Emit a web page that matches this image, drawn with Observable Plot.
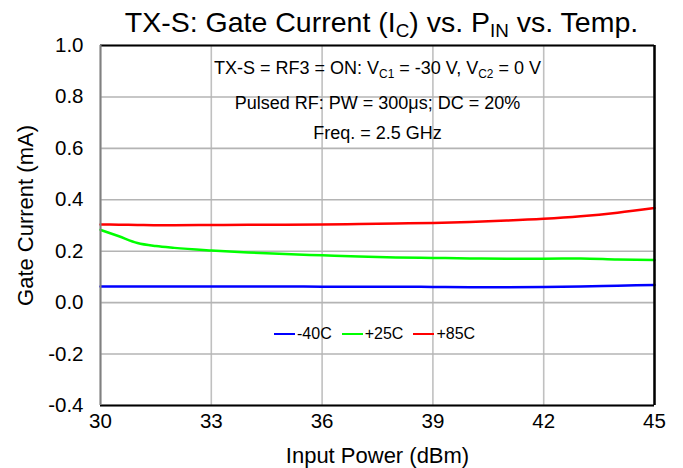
<!DOCTYPE html>
<html><head><meta charset="utf-8">
<script src="https://cdn.jsdelivr.net/npm/d3@7"></script>
<script src="https://cdn.jsdelivr.net/npm/@observablehq/plot@0.6"></script>
<style>
body{margin:0;background:#fff;}
#wrap{position:relative;width:683px;height:468px;font-family:"Liberation Sans",Arial,sans-serif;}
#legend{position:absolute;left:274px;top:324px;height:20px;display:flex;align-items:center;font-size:16px;color:#000;}
#legend .sw{display:inline-block;width:21px;height:2.5px;margin-right:2px;}
#legend .lab{margin-right:10px;}
</style></head><body><div id="wrap"><div id="legend"></div></div>
<script>
// ---- data ----
const inputPower = [30, 30.5, 31, 31.5, 32, 33, 34, 35, 36, 37, 38, 39, 40, 41, 42, 43, 44, 45];
const temps = ["-40C", "+25C", "+85C"];
const colors = ["#0000ff", "#00ff00", "#ff0000"];
const current_m40 = [0.063, 0.063, 0.063, 0.063, 0.063, 0.063, 0.063, 0.063, 0.062, 0.062, 0.062, 0.061, 0.060, 0.060, 0.061, 0.063, 0.066, 0.069];
const current_p25 = [0.283, 0.258, 0.232, 0.220, 0.213, 0.203, 0.195, 0.189, 0.184, 0.179, 0.176, 0.174, 0.172, 0.171, 0.171, 0.172, 0.168, 0.166];
const current_p85 = [0.304, 0.303, 0.302, 0.301, 0.301, 0.302, 0.303, 0.303, 0.304, 0.306, 0.308, 0.310, 0.314, 0.319, 0.326, 0.336, 0.350, 0.368];
const xTicks = [30, 33, 36, 39, 42, 45];
const yTicks = [-0.4, -0.2, 0.0, 0.2, 0.4, 0.6, 0.8, 1.0];
const titleText = "TX-S: Gate Current (I_{C}) vs. P_{IN} vs. Temp.";
const notes = ["TX-S = RF3 = ON: V_{C1} = -30 V, V_{C2} = 0 V", "Pulsed RF: PW = 300μs; DC = 20%", "Freq. = 2.5 GHz"];
const xLabel = "Input Power (dBm)";
const yLabel = "Gate Current (mA)";

// ---- table ----
const series = [current_m40, current_p25, current_p85];
const rows = [];
temps.forEach((t, i) => inputPower.forEach((x, j) => rows.push({temp: t, x, y: series[i][j]})));

const xDomain = [xTicks[0], xTicks[xTicks.length - 1]];
const yDomain = [yTicks[0], yTicks[yTicks.length - 1]];
const noteOffsets = [23, 58, 88];

const plot = Plot.plot({
  width: 683, height: 468,
  marginLeft: 100, marginRight: 29, marginTop: 45, marginBottom: 63,
  style: {fontFamily: '"Liberation Sans", Arial, sans-serif', background: "#fff", color: "#000"},
  x: {domain: xDomain, ticks: xTicks},
  y: {domain: yDomain, ticks: yTicks},
  color: {domain: temps, range: colors},
  marks: [
    Plot.gridX(xTicks, {stroke: "#c0c0c0", strokeOpacity: 1, strokeWidth: 1.6}),
    Plot.gridY(yTicks, {stroke: "#b4b4b4", strokeOpacity: 1, strokeWidth: 1.6}),
    ...notes.map((n, i) => Plot.text([n], {frameAnchor: "top", lineAnchor: "middle", text: d => d, dy: noteOffsets[i], fontSize: 18, ariaDescription: "notes"})),
    Plot.line(rows, {x: "x", y: "y", z: "temp", stroke: "temp", strokeWidth: 2.5, curve: "monotone-x"}),
    Plot.ruleY([yDomain[0]], {stroke: "#000", strokeWidth: 2}),
    Plot.ruleY([yDomain[1]], {stroke: "#000", strokeWidth: 2}),
    Plot.ruleX([xDomain[1]], {stroke: "#000", strokeWidth: 2.5}),
    Plot.ruleX([xDomain[0]], {stroke: "#808080", strokeWidth: 2}),
    Plot.axisX(xTicks, {tickSize: 0, tickPadding: 8, fontSize: 20.5, label: null, tickFormat: d => String(d)}),
    Plot.axisY(yTicks, {tickSize: 0, tickPadding: 17, fontSize: 20.5, label: null, tickFormat: d => d.toFixed(1)}),
    Plot.text([xLabel], {frameAnchor: "bottom", lineAnchor: "middle", text: d => d, dy: 50, fontSize: 22}),
    Plot.text([yLabel], {frameAnchor: "left", textAnchor: "middle", lineAnchor: "middle", text: d => d, dx: -75, dy: -10, rotate: -90, fontSize: 22}),
    Plot.text([titleText], {frameAnchor: "top", lineAnchor: "middle", text: d => d, dy: -23, dx: 4, fontSize: 28.5})
  ]
});
document.getElementById("wrap").prepend(plot);

// subscripts
function subscriptify(el) {
  const s = el.textContent;
  if (!s.includes("_{")) return;
  const fs = parseFloat(getComputedStyle(el).fontSize);
  const subFs = fs * 0.66, shift = fs * 0.2;
  while (el.firstChild) el.removeChild(el.firstChild);
  const parts = s.split(/(_\{[^}]*\})/);
  let inSub = false;
  parts.forEach(p => {
    if (!p) return;
    const t = document.createElementNS("http://www.w3.org/2000/svg", "tspan");
    if (p.startsWith("_{")) {
      t.textContent = p.slice(2, -1);
      t.setAttribute("font-size", subFs);
      t.setAttribute("dy", inSub ? 0 : shift);
      inSub = true;
    } else {
      t.textContent = p;
      if (inSub) t.setAttribute("dy", -shift);
      inSub = false;
    }
    el.appendChild(t);
  });
}
plot.querySelectorAll("text").forEach(subscriptify);

// white boxes behind notes
const ngs = plot.querySelectorAll('g[aria-description="notes"]');
if (ngs.length) {
  const bg = document.createElementNS("http://www.w3.org/2000/svg", "g");
  ngs[0].parentNode.insertBefore(bg, ngs[0]);
  ngs.forEach(ng => ng.querySelectorAll("text").forEach(t => {
    const b = t.getBBox();
    const r = document.createElementNS("http://www.w3.org/2000/svg", "rect");
    r.setAttribute("x", b.x - 24); r.setAttribute("y", b.y - 3);
    r.setAttribute("width", b.width + 48); r.setAttribute("height", b.height + 6);
    r.setAttribute("fill", "#fff");
    bg.appendChild(r);
  }));
}

// legend
const lg = document.getElementById("legend");
temps.forEach((t, i) => {
  const sw = document.createElement("span"); sw.className = "sw"; sw.style.background = colors[i];
  const lab = document.createElement("span"); lab.className = "lab"; lab.textContent = t;
  lg.appendChild(sw); lg.appendChild(lab);
});
</script></body></html>
